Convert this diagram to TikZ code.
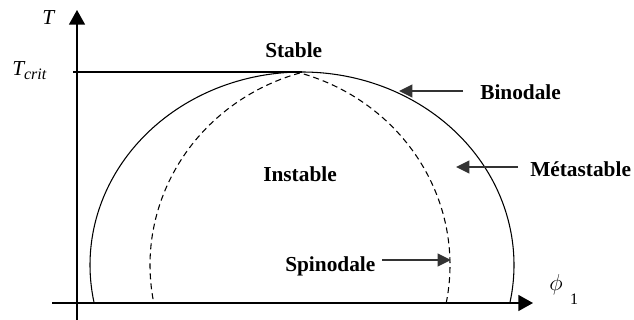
\documentclass[tikz,border=0pt]{standalone}
\usepackage{fontspec}
\setmainfont{Liberation Serif}
\usetikzlibrary{arrows.meta}
\begin{document}
\begin{tikzpicture}[x=0.75pt,y=-0.75pt,
  lbl/.style={font=\fontsize{16}{18}\selectfont\bfseries, inner sep=0pt, anchor=base west},
  axis/.style={line width=1.1pt, -{Triangle[length=11pt,width=12pt]}},
  curve/.style={line width=0.8pt},
  spin/.style={line width=0.8pt, dash pattern=on 4.5pt off 3pt},
  pointer/.style={line width=1.4pt, draw=black!80, -{Triangle[length=10pt,width=9.5pt]}}]
\useasboundingbox (0,0) rectangle (634,320);
% axes
\coordinate (ybot) at (77,320);
\coordinate (ytop) at (77,10);
\coordinate (xl) at (52,303);
\coordinate (xr) at (533,303);
\draw[axis] (ybot) -- (ytop);
\draw[axis] (xl) -- (xr);
% critical temperature line
\coordinate (tc0) at (73,72);
\coordinate (peak) at (302,72);
\draw[line width=0.9pt] (tc0) -- (peak);
% binodal
\draw[curve] plot[domain=-11.36:191.36, samples=120, smooth]
  ({302+212*cos(\x)}, {265-193*sin(\x)});
% spinodal
\draw[spin] plot[domain=-10.95:73.74, samples=60, smooth]
  ({300+208*cos(\x)-58}, {265-200*sin(\x)})
  -- plot[domain=73.74:-10.95, samples=60, smooth]
  ({300-208*cos(\x)+58}, {265-200*sin(\x)});
% axis labels
\node[inner sep=0pt, anchor=base west, font=\fontsize{16}{18}\selectfont\itshape] (T) at (42,25) {T};
\node[inner sep=0pt, anchor=base west, font=\fontsize{16}{18}\selectfont\itshape] (Tcrit) at (12,76) {T\raisebox{-0.35ex}{\fontsize{12}{14}\selectfont crit}};
\node[inner sep=0pt, font=\fontsize{19}{22}\selectfont] (phi) at (556,285) {$\phi$};
\node[inner sep=0pt, font=\fontsize{12}{14}\selectfont] (one) at (574,299) {1};
% region labels
\node[lbl] (stable) at (265,58) {Stable};
\node[lbl] (instable) at (263,181) {Instable};
\node[lbl] (bin) at (480,100) {Binodale};
\node[lbl] (meta) at (530,177) {Métastable};
\node[lbl] (spino) at (285,271) {Spinodale};
% pointers
\coordinate (binA) at (463,91);
\coordinate (binB) at (399,91);
\coordinate (metaA) at (518,167);
\coordinate (metaB) at (456,167);
\coordinate (spA) at (382,260);
\coordinate (spB) at (451,260);
\draw[pointer] (binA) -- (binB);
\draw[pointer] (metaA) -- (metaB);
\draw[pointer] (spA) -- (spB);
\end{tikzpicture}
\end{document}
